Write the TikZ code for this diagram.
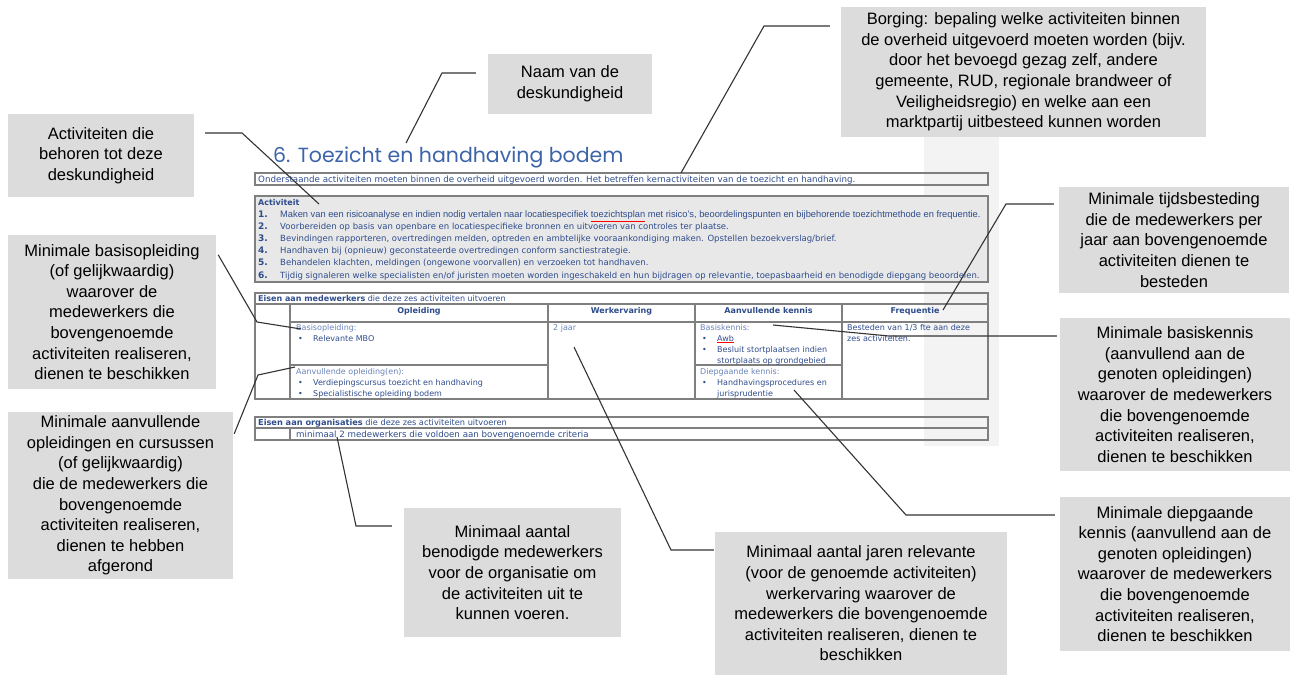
\documentclass[tikz,border=0pt]{standalone}
\usepackage{fontspec}
\usepackage{xcolor}
\setmainfont{Liberation Sans}
\newfontfamily\docfont{DejaVu Sans}
\newfontfamily\titelfont{Poppins}
\usetikzlibrary{positioning}

\definecolor{boxgrijs}{HTML}{DCDCDC}
\definecolor{docblauw}{HTML}{2E4C8C}
\definecolor{doclicht}{HTML}{6A84B8}
\definecolor{titelblauw}{HTML}{3D64A8}
\definecolor{randgrijs}{HTML}{7F7F7F}
\definecolor{bandgrijs}{HTML}{F3F3F3}
\definecolor{actgrijs}{HTML}{E8E8E8}
\definecolor{lijnkleur}{HTML}{333333}

\newcommand{\spelfout}[1]{\textcolor{red}{\underline{\textcolor{docblauw}{#1}}}}
\newcommand{\opsom}{\makebox[15pt][l]{•}}

\begin{document}
\begin{tikzpicture}[x=1pt, y=-1pt,
    uitleg/.style={fill=boxgrijs, align=center, inner sep=0pt,
        font=\fontsize{16.5pt}{20.6pt}\selectfont},
    leider/.style={draw=lijnkleur, line width=1.1pt},
    rand/.style={draw=randgrijs, line width=1.2pt},
    doc/.style={anchor=base west, inner sep=0pt, text=docblauw,
        font=\docfont\fontsize{8pt}{9.6pt}\selectfont},
    actdoc/.style={doc, font=\docfont\fontsize{8.5pt}{10pt}\selectfont},
    licht/.style={doc, text=doclicht},
    kop/.style={doc, anchor=base, font=\docfont\bfseries\fontsize{8pt}{9.6pt}\selectfont},
    nummer/.style={kop, anchor=base west, font=\docfont\bfseries\fontsize{9pt}{10pt}\selectfont}]
    \useasboundingbox (0,0) rectangle (1291,675);
    % Shadow band of the page
    \fill[bandgrijs] (924,130) rectangle (999,446);
    % Title of the page
    \node[anchor=base west, inner sep=0pt, text=titelblauw,
        font=\titelfont\fontsize{20.5pt}{24pt}\selectfont] (titel) at (273,162) {6. Toezicht en handhaving bodem};
    % Row with the borging
    \draw[rand] (255,173) rectangle (988,185);
    \node[doc, font=\docfont\fontsize{8.7pt}{10pt}\selectfont] (onderstaande) at (258,182.5) {Onderstaande activiteiten moeten binnen de overheid uitgevoerd worden. Het betreffen kernactiviteiten van de toezicht en handhaving.};
    % Activities
    \draw[rand, fill=actgrijs] (255,196) rectangle (988,282);
    \node[kop, anchor=base west] (activiteit) at (258,205) {Activiteit};
    \node[nummer] (nr-1) at (258,217.5) {1.};
    \node[nummer] (nr-2) at (258,229.6) {2.};
    \node[nummer] (nr-3) at (258,241.7) {3.};
    \node[nummer] (nr-4) at (258,253.8) {4.};
    \node[nummer] (nr-5) at (258,265.9) {5.};
    \node[nummer] (nr-6) at (258,278) {6.};
    \node[doc, font=\fontsize{9.3pt}{10pt}\selectfont] (act-1) at (280,217.5) {Maken van een risicoanalyse en indien nodig vertalen naar locatiespecifiek \spelfout{toezichtsplan} met risico's, beoordelingspunten en bijbehorende toezichtmethode en frequentie.};
    \node[actdoc] (act-2) at (280,229.6) {Voorbereiden op basis van openbare en locatiespecifieke bronnen en uitvoeren van controles ter plaatse.};
    \node[actdoc] (act-3) at (280,241.7) {Bevindingen rapporteren, overtredingen melden, optreden en ambtelijke vooraankondiging maken. Opstellen bezoekverslag/brief.};
    \node[actdoc] (act-4) at (280,253.8) {Handhaven bij (opnieuw) geconstateerde overtredingen conform sanctiestrategie.};
    \node[actdoc] (act-5) at (280,265.9) {Behandelen klachten, meldingen (ongewone voorvallen) en verzoeken tot handhaven.};
    \node[actdoc] (act-6) at (280,278) {Tijdig signaleren welke specialisten en/of juristen moeten worden ingeschakeld en hun bijdragen op relevantie, toepasbaarheid en benodigde diepgang beoordelen.};
    % Requirements for the staff
    \draw[rand] (255,293) rectangle (988,399);
    \draw[rand] (255,304) -- (988,304);
    \draw[rand] (290,304) -- (290,399);
    \draw[rand] (290,322) -- (988,322);
    \draw[rand] (548,304) -- (548,399);
    \draw[rand] (695,304) -- (695,399);
    \draw[rand] (842,304) -- (842,399);
    \draw[rand] (290,365) -- (548,365);
    \draw[rand] (695,365) -- (842,365);
    \node[doc] (eisen-mdw) at (258,301) {\textbf{Eisen aan medewerkers} die deze zes activiteiten uitvoeren};
    \node[kop] (opleiding) at (419,313) {Opleiding};
    \node[kop] (werkervaring) at (621.5,313) {Werkervaring};
    \node[kop] (kennis) at (768.5,313) {Aanvullende kennis};
    \node[kop] (frequentie) at (915,313) {Frequentie};
    \node[licht] (basisopl) at (296,330) {Basisopleiding:};
    \node[doc] (mbo) at (298,341) {\opsom Relevante MBO};
    \node[licht] (aanvopl) at (296,374) {Aanvullende opleiding(en):};
    \node[doc] (cursus-1) at (298,385) {\opsom Verdiepingscursus toezicht en handhaving};
    \node[doc] (cursus-2) at (298,396) {\opsom Specialistische opleiding bodem};
    \node[licht] (jaar) at (553,330) {2 jaar};
    \node[licht] (basiskennis) at (700,330) {Basiskennis:};
    \node[doc] (awb) at (702,341) {\opsom\spelfout{Awb}};
    \node[doc] (besluit-1) at (702,352) {\opsom Besluit stortplaatsen indien};
    \node[doc] (besluit-2) at (717,363) {stortplaats op grondgebied};
    \node[licht] (diepgaand) at (700,374) {Diepgaande kennis:};
    \node[doc] (proc-1) at (702,385) {\opsom Handhavingsprocedures en};
    \node[doc] (proc-2) at (717,396) {jurisprudentie};
    \node[doc] (besteden-1) at (847,330) {Besteden van 1/3 fte aan deze};
    \node[doc] (besteden-2) at (847,341) {zes activiteiten.};
    % Requirements for the organisation
    \draw[rand] (255,417) rectangle (988,440);
    \draw[rand] (255,428) -- (988,428);
    \draw[rand] (290,428) -- (290,440);
    \node[doc, font=\docfont\fontsize{8.2pt}{9.6pt}\selectfont] (eisen-org) at (258,425) {\textbf{Eisen aan organisaties} die deze zes activiteiten uitvoeren};
    \node[doc, font=\docfont\fontsize{8.7pt}{9.6pt}\selectfont] (minimaal) at (296,437) {minimaal 2 medewerkers die voldoen aan bovengenoemde criteria};
    % Callout boxes
    \node[uitleg, minimum width=164pt, minimum height=60pt] (u-naam) at (570,84) {Naam van de\\deskundigheid};
    \node[uitleg, minimum width=186pt, minimum height=83pt] (u-activ) at (101,155.5) {Activiteiten die\\behoren tot deze\\deskundigheid};
    \node[uitleg, minimum width=365pt, minimum height=130pt] (u-borging) at (1023.5,72) {Borging: bepaling welke activiteiten binnen\\de overheid uitgevoerd moeten worden (bijv.\\door het bevoegd gezag zelf, andere\\gemeente, RUD, regionale brandweer of\\Veiligheidsregio) en welke aan een\\marktpartij uitbesteed kunnen worden};
    \node[uitleg, minimum width=230pt, minimum height=106pt] (u-tijd) at (1174,240) {Minimale tijdsbesteding\\die de medewerkers per\\jaar aan bovengenoemde\\activiteiten dienen te\\besteden};
    \node[uitleg, minimum width=208pt, minimum height=154pt] (u-basisopl) at (112,312) {Minimale basisopleiding\\(of gelijkwaardig)\\waarover de\\medewerkers die\\bovengenoemde\\activiteiten realiseren,\\dienen te beschikken};
    \node[uitleg, minimum width=225pt, minimum height=167pt] (u-aanvopl) at (120.5,495.5) {Minimale aanvullende\\opleidingen en cursussen\\(of gelijkwaardig)\\die de medewerkers die\\bovengenoemde\\activiteiten realiseren,\\dienen te hebben\\afgerond};
    \node[uitleg, minimum width=217pt, minimum height=129pt] (u-mdw) at (512.5,572.5) {Minimaal aantal\\benodigde medewerkers\\voor de organisatie om\\de activiteiten uit te\\kunnen voeren.};
    \node[uitleg, minimum width=292pt, minimum height=143pt] (u-jaren) at (861,603.5) {Minimaal aantal jaren relevante\\(voor de genoemde activiteiten)\\werkervaring waarover de\\medewerkers die bovengenoemde\\activiteiten realiseren, dienen te\\beschikken};
    \node[uitleg, minimum width=230pt, minimum height=153pt] (u-basiskennis) at (1175,394.5) {Minimale basiskennis\\(aanvullend aan de\\genoten opleidingen)\\waarover de medewerkers\\die bovengenoemde\\activiteiten realiseren,\\dienen te beschikken};
    \node[uitleg, minimum width=230pt, minimum height=154pt] (u-diepgaand) at (1175,574) {Minimale diepgaande\\kennis (aanvullend aan de\\genoten opleidingen)\\waarover de medewerkers\\die bovengenoemde\\activiteiten realiseren,\\dienen te beschikken};
    % Points where the leaders end
    \coordinate (titel-punt) at (406,143);
    \coordinate (activiteit-punt) at (319,204);
    \coordinate (onderstaande-punt) at (681,173);
    \coordinate (frequentie-punt) at (943,310);
    \coordinate (basisopl-punt) at (301,329);
    \coordinate (aanvopl-punt) at (295,367);
    \coordinate (minimaal-punt) at (337,437);
    \coordinate (jaar-punt) at (574,347);
    \coordinate (basiskennis-punt) at (773,325);
    \coordinate (diepgaand-punt) at (794,390);
    % Bends of the leaders
    \coordinate (naam-knik) at (442,73);
    \coordinate (activ-knik) at (242,133);
    \coordinate (borging-knik) at (764,26);
    \coordinate (tijd-knik) at (1006,204);
    \coordinate (basisopl-knik) at (257,322);
    \coordinate (aanvopl-knik) at (258,375);
    \coordinate (mdw-knik) at (356,526);
    \coordinate (jaren-knik) at (671,550);
    \coordinate (basiskennis-knik) at (889,336);
    \coordinate (diepgaand-knik) at (906,515);
    % Leaders
    \draw[leider, shorten <=12pt] (u-naam.west |- naam-knik) -- (naam-knik) -- (titel-punt);
    \draw[leider, shorten <=11pt] (u-activ.east |- activ-knik) -- (activ-knik) -- (activiteit-punt);
    \draw[leider, shorten <=11pt] (u-borging.west |- borging-knik) -- (borging-knik) -- (onderstaande-punt);
    \draw[leider, shorten <=5pt] (u-tijd.west |- tijd-knik) -- (tijd-knik) -- (frequentie-punt);
    \draw[leider] ([xshift=2pt, yshift=-20pt]u-basisopl.north east) -- (basisopl-knik) -- (basisopl-punt);
    \draw[leider] ([xshift=1pt, yshift=-22pt]u-aanvopl.north east) -- (aanvopl-knik) -- (aanvopl-punt);
    \draw[leider, shorten <=12pt] (u-mdw.west |- mdw-knik) -- (mdw-knik) -- (minimaal-punt);
    \draw[leider, shorten <=1pt] (u-jaren.west |- jaren-knik) -- (jaren-knik) -- (jaar-punt);
    \draw[leider, shorten <=3pt] (u-basiskennis.west |- basiskennis-knik) -- (basiskennis-knik) -- (basiskennis-punt);
    \draw[leider, shorten <=5pt] (u-diepgaand.west |- diepgaand-knik) -- (diepgaand-knik) -- (diepgaand-punt);
\end{tikzpicture}
\end{document}
